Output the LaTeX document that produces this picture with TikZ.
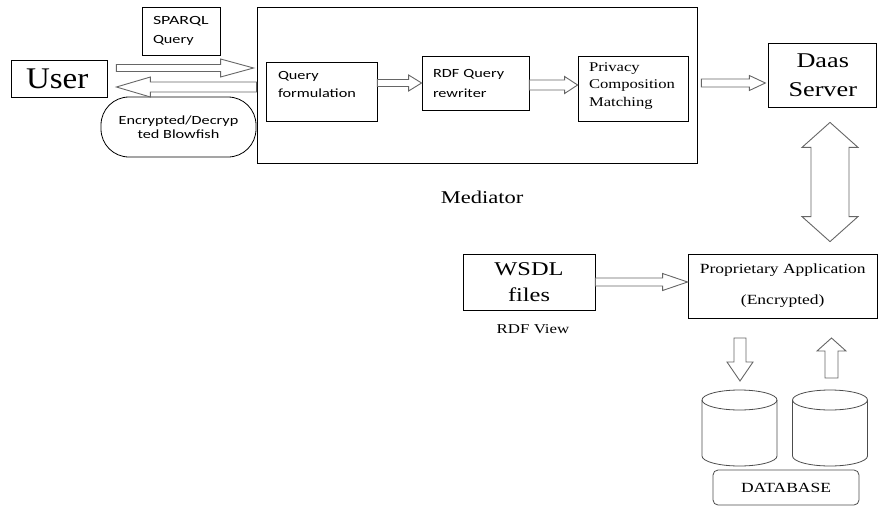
\documentclass[tikz,border=0pt]{standalone}
\usepackage{fontspec}
\setmainfont{Liberation Serif}[FakeStretch=1.25]
\newfontfamily\sansfnt{Carlito}[FakeStretch=1.3]
\newfontfamily\userfnt{Liberation Serif}[FakeStretch=1.1]
\usetikzlibrary{calc}

% hollow block arrow: tail, tip, half shaft, half head, head length
\newcommand{\fatarr}[5]{%
    \coordinate (hb) at ($(#2)!#5!(#1)$);
    \draw[hollow] ($(#1)!#3!90:(#2)$) -- ($(hb)!#3!90:(#2)$) -- ($(hb)!#4!90:(#2)$) -- (#2)
    -- ($(hb)!#4!-90:(#2)$) -- ($(hb)!#3!-90:(#2)$) -- ($(#1)!#3!-90:(#2)$) -- cycle;
}
% same, with a head at both ends
\newcommand{\fatdarr}[5]{%
    \coordinate (ha) at ($(#1)!#5!(#2)$);
    \coordinate (hb) at ($(#2)!#5!(#1)$);
    \draw[hollow] (#1) -- ($(ha)!#4!90:(#2)$) -- ($(ha)!#3!90:(#2)$) -- ($(hb)!#3!90:(#2)$)
    -- ($(hb)!#4!90:(#2)$) -- (#2) -- ($(hb)!#4!-90:(#2)$) -- ($(hb)!#3!-90:(#2)$)
    -- ($(ha)!#3!-90:(#2)$) -- ($(ha)!#4!-90:(#2)$) -- cycle;
}

\begin{document}
\begin{tikzpicture}[x=1pt, y=-1pt,
        bx/.style={draw, line width=0.8pt, inner sep=0pt},
        sf/.style={font=\sansfnt\fontsize{12.5}{#1}\selectfont},
        rm/.style={font=\fontsize{#1}{#1}\selectfont},
        hollow/.style={draw=black!60, fill=white, line width=0.9pt, line join=miter},
        cyl/.style={draw=black!70, line width=0.8pt}
    ]

    \def\rx{37.5}
    \def\ry{10}
    \def\ch{56}

    \useasboundingbox (0,0) rectangle (878,506);

    % left part
    \node (sparql) at (181,31) [bx, sf=19, text width=56pt, inner xsep=11pt, minimum height=48pt, align=left] {\scalebox{1.1}[1]{SPARQL}\\Query};
    \node (user) at (59,78.5) [bx, minimum width=96pt, minimum height=37pt, text width=84pt, inner xsep=6pt, font=\userfnt\fontsize{30}{30}\selectfont] {\hspace{9pt}User};
    \node (crypt) at (178.5,127) [bx, sf=14.5, rounded corners=28pt, minimum width=155pt, minimum height=60pt, align=center] {Encrypted/Decryp\\ted Blowfish};

    % mediator
    \node (med) at (477,85) [bx, minimum width=440pt, minimum height=156pt] {};
    \node (qf) at (321.5,91.5) [bx, sf=18, text width=87pt, inner xsep=12pt, text depth=32pt, minimum height=59pt, align=left] {Query\\formulation};
    \node (rdf) at (475.5,83) [bx, sf=20, text width=85pt, inner xsep=11pt, minimum height=54pt, align=left] {RDF Query\\rewriter};
    \node (priv) at (633,88.5) [bx, font=\fontsize{13.3}{17.5}\selectfont, text width=88pt, inner xsep=11pt, text depth=43pt, minimum height=65pt, align=left] {Privacy\\Composition\\Matching};
    \node (medlbl) at (482,197) [rm=18] {Mediator};

    % right part
    \node (daas) at (822.75,75) [bx, font=\fontsize{21}{29}\selectfont, minimum width=108pt, minimum height=64pt, align=center] {Daas\\Server};
    \node (wsdl) at (529,282) [bx, font=\fontsize{19.5}{26}\selectfont, minimum width=132pt, minimum height=56pt, align=center] {WSDL\\files};
    \node (rdfview) at (533,329) [rm=13.5] {RDF View};
    \node (prop) at (782.75,286) [bx, font=\fontsize{14}{31}\selectfont, minimum width=189.5pt, minimum height=64pt, align=center] {Proprietary Application\\(Encrypted)};

    % database
    \foreach \cx/\nm in {739.5/dbl, 830/dbr}{
        \coordinate (\nm) at (\cx,400);
        \draw[cyl] (\cx-\rx,400) -- (\cx-\rx,400+\ch) arc[start angle=180, end angle=0, x radius=\rx, y radius=\ry] -- (\cx+\rx,400);
        \draw[cyl] (\nm) ellipse[x radius=\rx, y radius=\ry];
    }
    \node (dbase) at (786,487.5) [bx, draw=black!70, rounded corners=5pt, minimum width=146pt, minimum height=35pt, rm=14] {DATABASE};

    % block arrows
    \coordinate (q1) at ($(user.east)+(9,-10.5)$);
    \coordinate (q2) at ($(q1 -| med.west)+(-3,0)$);
    \coordinate (r1) at ($(user.east -| med.west)+(0,8.5)$);
    \coordinate (r2) at ($(user.east)+(9,8.5)$);
    \fatarr{q1}{q2}{3.5pt}{9pt}{33pt}
    \fatarr{r1}{r2}{5pt}{10pt}{34pt}

    \fatarr{qf.east |- rdf.west}{rdf.west}{3.5pt}{8pt}{13pt}
    \coordinate (s1) at ($(rdf.east)+(0,2)$);
    \fatarr{s1}{s1 -| priv.west}{5pt}{8.5pt}{13pt}

    \coordinate (t1) at ($(med.east)+(4,-2)$);
    \coordinate (t2) at ($(t1 -| daas.west)+(-3,0)$);
    \fatarr{t1}{t2}{4pt}{7.5pt}{16pt}

    \coordinate (d1) at ($(daas.south)+(7.25,15)$);
    \coordinate (d2) at ($(d1 |- prop.north)+(0,-12)$);
    \fatdarr{d1}{d2}{19pt}{28pt}{25pt}

    \fatarr{wsdl.east}{wsdl.east -| prop.west}{4pt}{8.5pt}{25pt}

    \coordinate (e1) at ($(dbl)+(0.5,-62)$);
    \coordinate (e2) at ($(dbl)+(0.5,-19)$);
    \fatarr{e1}{e2}{6pt}{13pt}{19pt}
    \coordinate (f1) at ($(dbr)+(1.5,-22)$);
    \coordinate (f2) at ($(dbr)+(1.5,-62)$);
    \fatarr{f1}{f2}{6.5pt}{14.5pt}{13pt}
\end{tikzpicture}
\end{document}
